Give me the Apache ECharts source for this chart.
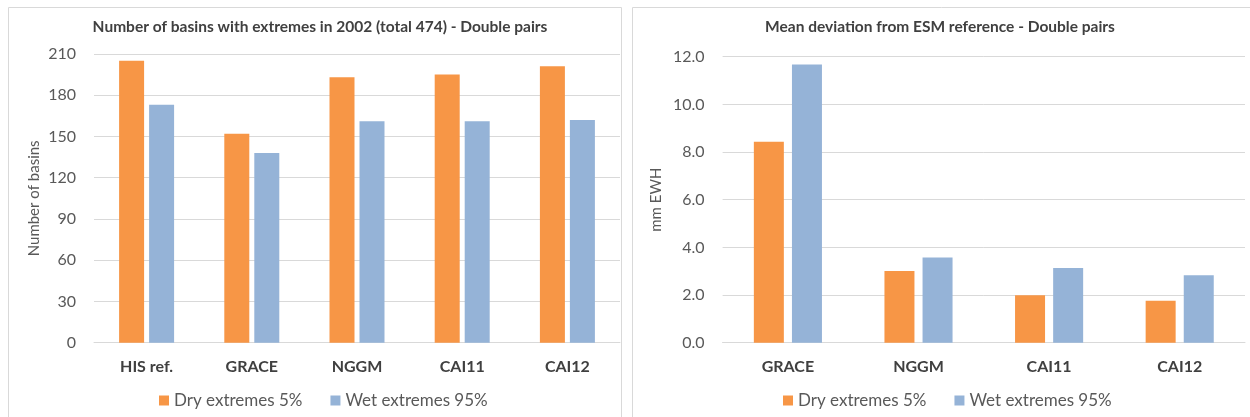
<!DOCTYPE html>
<html>
<head>
<meta charset="utf-8">
<script src="https://cdn.jsdelivr.net/npm/echarts@6/dist/echarts.min.js"></script>
<style>
html,body{margin:0;padding:0;background:#fff;}
#chart{width:1250px;height:417px;}
</style>
</head>
<body>
<div id="chart"></div>
<script>
const leftTitle = 'Number of basins with extremes in 2002 (total 474) - Double pairs';
const rightTitle = 'Mean deviation from ESM reference - Double pairs';
const seriesNames = ['Dry extremes 5%', 'Wet extremes 95%'];
const leftCategories = ['HIS ref.', 'GRACE', 'NGGM', 'CAI11', 'CAI12'];
const leftDry = [205, 152, 193, 195, 201];
const leftWet = [173, 138, 161, 161, 162];
const rightCategories = ['GRACE', 'NGGM', 'CAI11', 'CAI12'];
const rightDry = [8.43, 3.01, 1.99, 1.76];
const rightWet = [11.67, 3.58, 3.13, 2.83];
const leftYName = 'Number of basins';
const rightYName = 'mm EWH';

const ORANGE = '#F79646';
const BLUE = '#95B3D7';
const FONT = 'Lato';
const GRID_COLOR = '#D9D9D9';

const chart = echarts.init(document.getElementById('chart'), null, {renderer: 'canvas'});

function yAxis(gridIndex, max, interval, name, nameGap, fmt) {
  return {
    type: 'value', gridIndex, min: 0, max, interval,
    name, nameLocation: 'middle', nameGap,
    nameTextStyle: {fontFamily: FONT, fontSize: 15, color: '#595959'},
    axisLine: {show: false}, axisTick: {show: false},
    splitLine: {lineStyle: {color: GRID_COLOR, width: 1}},
    axisLabel: {fontFamily: FONT, fontSize: 16, color: '#595959', margin: 18, formatter: fmt}
  };
}
function xAxis(gridIndex, data) {
  return {
    type: 'category', gridIndex, data,
    axisLine: {lineStyle: {color: GRID_COLOR, width: 1}},
    axisTick: {show: false},
    axisLabel: {fontFamily: FONT, fontSize: 16, fontWeight: 'bold', color: '#404040', margin: 16}
  };
}
function legend(left) {
  return {
    data: seriesNames, left, top: 392, padding: 0, icon: 'rect', itemWidth: 10, itemHeight: 10, itemGap: 28,
    textStyle: {fontFamily: FONT, fontSize: 17, color: '#595959'}
  };
}

chart.setOption({
  animation: false,
  color: [ORANGE, BLUE],
  graphic: [
    {type: 'rect', shape: {x: 8.5, y: 7.5, width: 613, height: 420}, style: {fill: 'none', stroke: GRID_COLOR, lineWidth: 1}},
    {type: 'rect', shape: {x: 632.5, y: 7.5, width: 630, height: 420}, style: {fill: 'none', stroke: GRID_COLOR, lineWidth: 1}}
  ],
  title: [
    {text: leftTitle, left: 320, textAlign: 'center', top: 19, padding: 0,
     textStyle: {fontFamily: FONT, fontSize: 15.5, fontWeight: 'bold', color: '#404040'}},
    {text: rightTitle, left: 940, textAlign: 'center', top: 19, padding: 0,
     textStyle: {fontFamily: FONT, fontSize: 15.5, fontWeight: 'bold', color: '#404040'}}
  ],
  legend: [legend(159), legend(783)],
  grid: [
    {left: 94, right: 630, top: 54, bottom: 74.3},
    {left: 722.6, right: 5, top: 56.7, bottom: 74.3}
  ],
  xAxis: [xAxis(0, leftCategories), xAxis(1, rightCategories)],
  yAxis: [
    yAxis(0, 210, 30, leftYName, 52, v => String(v)),
    yAxis(1, 12, 2, rightYName, 59, v => v.toFixed(1))
  ],
  series: [
    {name: seriesNames[0], type: 'bar', xAxisIndex: 0, yAxisIndex: 0, data: leftDry, barWidth: 25, barGap: '20%',
     itemStyle: {color: ORANGE}},
    {name: seriesNames[1], type: 'bar', xAxisIndex: 0, yAxisIndex: 0, data: leftWet, barWidth: 25, barGap: '20%',
     itemStyle: {color: BLUE}},
    {name: seriesNames[0], type: 'bar', xAxisIndex: 1, yAxisIndex: 1, data: rightDry, barWidth: 30, barGap: '27%',
     itemStyle: {color: ORANGE}},
    {name: seriesNames[1], type: 'bar', xAxisIndex: 1, yAxisIndex: 1, data: rightWet, barWidth: 30, barGap: '27%',
     itemStyle: {color: BLUE}}
  ]
});
</script>
</body>
</html>
